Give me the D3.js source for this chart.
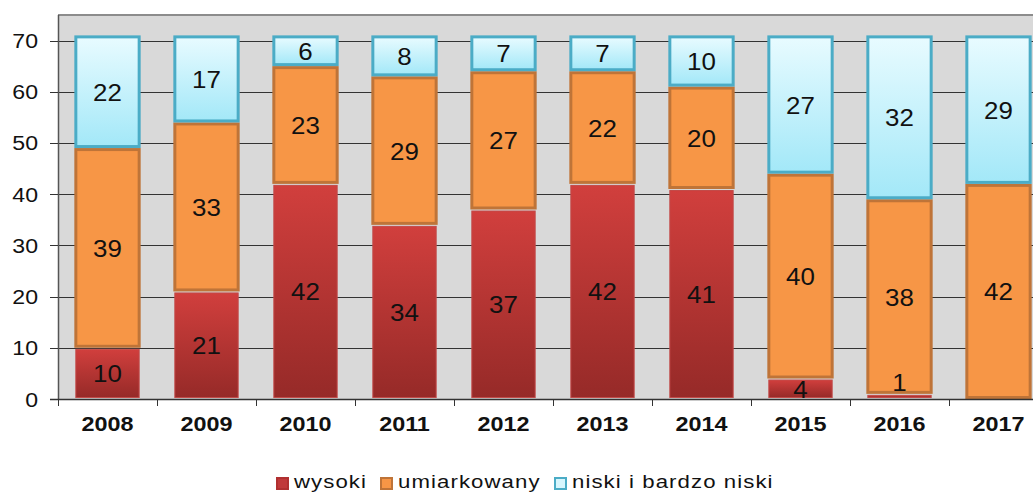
<!DOCTYPE html>
<html>
<head>
<meta charset="utf-8">
<script src="https://cdn.jsdelivr.net/npm/d3@7"></script>
<style>
body { margin: 0; background: #fff; }
svg text { font-family: "Liberation Sans", Arial, sans-serif; }
</style>
</head>
<body>
<svg id="chart" width="1033" height="493"></svg>
<script>
var years = ['2008', '2009', '2010', '2011', '2012', '2013', '2014', '2015', '2016', '2017'];
var wysoki = [10, 21, 42, 34, 37, 42, 41, 4, 1, 0];
var umiarkowany = [39, 33, 23, 29, 27, 22, 20, 40, 38, 42];
var niski = [22, 17, 6, 8, 7, 7, 10, 27, 32, 29];
var seriesNames = ['wysoki', 'umiarkowany', 'niski i bardzo niski'];
var yTicks = [0, 10, 20, 30, 40, 50, 60, 70];

var svg = d3.select('#chart');
var plotL = 58, plotT = 15, plotB = 399, plotR = 1048;

var x = d3.scaleBand().domain(years).range([plotL, plotR]).paddingInner(0.33).paddingOuter(0.165);
var xb = d3.scaleBand().domain(years).range([plotL, plotR]);
var y = d3.scaleLinear().domain([0, 70]).range([plotB, 40.5]);

var defs = svg.append('defs');
var g1 = defs.append('linearGradient').attr('id', 'gRed').attr('x1', 0).attr('y1', 0).attr('x2', 0).attr('y2', 1);
g1.append('stop').attr('offset', '0%').attr('stop-color', '#d13f3d');
g1.append('stop').attr('offset', '100%').attr('stop-color', '#962a28');
var g2 = defs.append('linearGradient').attr('id', 'gBlue').attr('x1', 0).attr('y1', 0).attr('x2', 0).attr('y2', 1);
g2.append('stop').attr('offset', '0%').attr('stop-color', '#e8fbff');
g2.append('stop').attr('offset', '100%').attr('stop-color', '#a3e8f8');

function stretched(sel, sx) {
    return sel.attr('transform', function(d) {
        return 'translate(' + d3.select(this).attr('data-x') + ',' + d3.select(this).attr('data-y') + ') scale(' + sx + ',1)';
    });
}

// plot background
svg.append('rect')
    .attr('x', plotL).attr('y', plotT)
    .attr('width', 1033 - plotL).attr('height', plotB - plotT)
    .attr('fill', '#d9d9d9');
svg.append('line')
    .attr('x1', plotL).attr('x2', 1033).attr('y1', plotT).attr('y2', plotT)
    .attr('stroke', '#8c8c8c').attr('stroke-width', 2);

// grid
svg.append('g').selectAll('line')
    .data(yTicks.slice(1))
    .enter().append('line')
    .attr('x1', plotL).attr('x2', 1033)
    .attr('y1', function(d) { return Math.round(y(d)) + 0.5; })
    .attr('y2', function(d) { return Math.round(y(d)) + 0.5; })
    .attr('stroke', '#333').attr('stroke-width', 1);

var data = years.map(function(yr, i) {
    return {year: yr, wysoki: wysoki[i], umiarkowany: umiarkowany[i], niski: niski[i]};
});
var stack = d3.stack().keys(['wysoki', 'umiarkowany', 'niski'])(data);
var fills = {wysoki: 'url(#gRed)', umiarkowany: '#f79646', niski: 'url(#gBlue)'};
var strokes = {wysoki: '#c24a48', umiarkowany: '#bf7438', niski: '#4bacc6'};

stack.forEach(function(layer) {
    var key = layer.key;
    svg.append('g').selectAll('rect')
        .data(layer.filter(function(d) { return d[1] > d[0]; }))
        .enter().append('rect')
        .attr('x', function(d) { return x(d.data.year) + 1.5; })
        .attr('width', x.bandwidth() - 3)
        .attr('y', function(d) { return y(d[1]) + 1.5; })
        .attr('height', function(d) { return Math.max(0, y(d[0]) - y(d[1]) - 3); })
        .attr('fill', fills[key])
        .attr('stroke', strokes[key])
        .attr('stroke-width', key === 'wysoki' ? 1 : 3);
});

// value labels (tiny segments get their label lifted just above)
stack.forEach(function(layer) {
    var t = svg.append('g').selectAll('text')
        .data(layer.filter(function(d) { return d[1] > d[0]; }))
        .enter().append('text')
        .attr('data-x', function(d) { return x(d.data.year) + x.bandwidth() / 2; })
        .attr('data-y', function(d) {
            var h = y(d[0]) - y(d[1]);
            if (h < 10) return y(d[1]) - 12 + 9;
            return (y(d[0]) + y(d[1])) / 2 + 9;
        })
        .attr('text-anchor', 'middle')
        .attr('font-size', 24)
        .attr('fill', '#111')
        .text(function(d) { return d[1] - d[0]; });
    stretched(t, 1.08);
});

// axes
svg.append('line').attr('x1', plotL + 0.5).attr('x2', plotL + 0.5).attr('y1', plotT).attr('y2', plotB)
    .attr('stroke', '#555').attr('stroke-width', 1.5);
svg.append('line').attr('x1', plotL - 8).attr('x2', 1033).attr('y1', plotB + 0.5).attr('y2', plotB + 0.5)
    .attr('stroke', '#333').attr('stroke-width', 1.5);

var yAxis = svg.append('g');
yAxis.selectAll('line').data(yTicks).enter().append('line')
    .attr('x1', plotL - 8).attr('x2', plotL)
    .attr('y1', function(d) { return Math.round(y(d)) + 0.5; })
    .attr('y2', function(d) { return Math.round(y(d)) + 0.5; })
    .attr('stroke', '#333');
var yt = yAxis.selectAll('text').data(yTicks).enter().append('text')
    .attr('data-x', 38).attr('data-y', function(d) { return y(d) + 7.5; })
    .attr('text-anchor', 'end').attr('font-size', 21).attr('fill', '#111')
    .text(function(d) { return d; });
stretched(yt, 1.1);

var xAxis = svg.append('g');
xAxis.selectAll('line').data(years).enter().append('line')
    .attr('x1', function(d) { return xb(d) + 0.5; })
    .attr('x2', function(d) { return xb(d) + 0.5; })
    .attr('y1', plotB).attr('y2', plotB + 7)
    .attr('stroke', '#333');
var xt = xAxis.selectAll('text').data(years).enter().append('text')
    .attr('data-x', function(d) { return x(d) + x.bandwidth() / 2; })
    .attr('data-y', 431)
    .attr('text-anchor', 'middle').attr('font-size', 19.5).attr('font-weight', 'bold').attr('fill', '#111')
    .text(function(d) { return d; });
stretched(xt, 1.2);

// legend
var legendX = [276, 380, 554];
var legendFill = ['#c0393a', '#f79646', '#d7f6fd'];
var legendStroke = ['#b03030', '#bf7438', '#4bacc6'];
var lg = svg.append('g');
seriesNames.forEach(function(name, i) {
    lg.append('rect')
        .attr('x', legendX[i] + 1).attr('y', 478)
        .attr('width', 11).attr('height', 11)
        .attr('fill', legendFill[i]).attr('stroke', legendStroke[i]).attr('stroke-width', 2);
    var lt = lg.append('text')
        .datum(name)
        .attr('data-x', legendX[i] + 18).attr('data-y', 488)
        .attr('font-size', 18.5).attr('letter-spacing', 0.9).attr('fill', '#111')
        .text(name);
    stretched(lt, 1.2);
});
</script>
</body>
</html>
